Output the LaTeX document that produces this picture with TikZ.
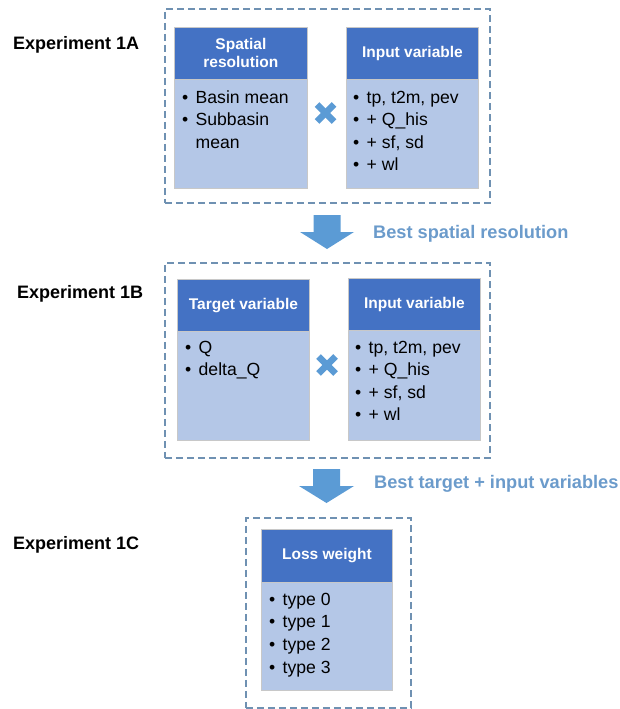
\documentclass[tikz,border=0pt]{standalone}
\usepackage{fontspec}
\setmainfont{Liberation Sans}
\usetikzlibrary{calc}
\definecolor{hdrc}{HTML}{4472C4}
\definecolor{bodyc}{HTML}{B4C7E7}
\definecolor{edgec}{HTML}{C8C8C8}
\definecolor{dashc}{HTML}{6F91B2}
\definecolor{arrowc}{HTML}{5B9BD5}
\definecolor{notec}{HTML}{6B9BCB}
\newcommand{\myitem}[1]{\makebox[13.5pt][l]{•}#1}
\newcommand{\mycont}[1]{\hspace*{13.5pt}#1}
\begin{document}
\begin{tikzpicture}[x=1pt,y=-1pt,
  group/.style={draw=dashc, dash pattern=on 7pt off 4pt, line width=1.8pt, fill=none, anchor=north west, inner sep=0},
  hdr/.style={fill=hdrc, draw=edgec, line width=0.8pt, text=white, anchor=north west, inner sep=0,
    font=\bfseries\fontsize{15.5}{18}\selectfont, align=center},
  body/.style={fill=bodyc, draw=edgec, line width=0.8pt, anchor=north west, inner sep=0},
  items/.style={anchor=north west, inner sep=0, align=left, font=\fontsize{17.6}{22.5}\selectfont},
  explabel/.style={font=\bfseries\fontsize{18}{20}\selectfont, anchor=base west, inner sep=0},
  note/.style={text=notec, font=\bfseries\fontsize{18.2}{20}\selectfont, anchor=base west, inner sep=0},
  crossmark/.style={draw=arrowc, line width=6.5pt},
  blockarrow/.style={fill=arrowc, draw=none}]
\useasboundingbox (0,0) rectangle (619,709);

% ---------- Experiment 1A ----------
\node[explabel] (l1a) at (13,49) {Experiment 1A};
\node[group, minimum width=325pt, minimum height=194pt] (g1a) at (164,8) {};
\node[body, minimum width=133pt, minimum height=109pt] (sb) at (174,79) {};
\node[hdr, minimum width=133pt, minimum height=52pt] (sh) at (174,27) {Spatial\\resolution};
\node[items] (st) at (182,87.25) {\strut\myitem{Basin mean}\\\myitem{Subbasin}\\\mycont{mean}};
\node[body, minimum width=132pt, minimum height=109pt] (ib1) at (346,79) {};
\node[hdr, minimum width=132pt, minimum height=52pt] (ih1) at (346,27) {Input variable};
\node[items] (it1) at (353,87.25) {\strut\myitem{tp, t2m, pev}\\\myitem{+ Q\_his}\\\myitem{+ sf, sd}\\\myitem{+ wl}};
\coordinate (x1) at (325.5,113);
\draw[crossmark] ($(x1)+(-8.5,-8.5)$) -- ($(x1)+(8.5,8.5)$);
\draw[crossmark] ($(x1)+(-8.5,8.5)$) -- ($(x1)+(8.5,-8.5)$);

% ---------- arrow 1 ----------
\coordinate (a1) at (327,215);
\fill[blockarrow] ($(a1)+(-13.5,0)$) -- ($(a1)+(13.5,0)$) -- ($(a1)+(13.5,17)$) -- ($(a1)+(27,17)$)
  -- ($(a1)+(0,34)$) -- ($(a1)+(-27,17)$) -- ($(a1)+(-13.5,17)$) -- cycle;
\node[note] (n1) at (373,238) {Best spatial resolution};

% ---------- Experiment 1B ----------
\node[explabel] (l1b) at (17,298) {Experiment 1B};
\node[group, minimum width=325pt, minimum height=195pt] (g1b) at (164,262) {};
\node[body, minimum width=132pt, minimum height=109pt] (tb) at (177,331) {};
\node[hdr, minimum width=132pt, minimum height=52pt] (th) at (177,279) {Target variable};
\node[items] (tt) at (185,337.25) {\strut\myitem{Q}\\\myitem{delta\_Q}};
\node[body, minimum width=132pt, minimum height=110pt] (ib2) at (348,330) {};
\node[hdr, minimum width=132pt, minimum height=52pt] (ih2) at (348,278) {Input variable};
\node[items] (it2) at (355,337.25) {\strut\myitem{tp, t2m, pev}\\\myitem{+ Q\_his}\\\myitem{+ sf, sd}\\\myitem{+ wl}};
\coordinate (x2) at (327,365);
\draw[crossmark] ($(x2)+(-8.5,-8.5)$) -- ($(x2)+(8.5,8.5)$);
\draw[crossmark] ($(x2)+(-8.5,8.5)$) -- ($(x2)+(8.5,-8.5)$);

% ---------- arrow 2 ----------
\coordinate (a2) at (326.5,469);
\fill[blockarrow] ($(a2)+(-13.5,0)$) -- ($(a2)+(13.5,0)$) -- ($(a2)+(13.5,17)$) -- ($(a2)+(27.5,17)$)
  -- ($(a2)+(0,34)$) -- ($(a2)+(-27.5,17)$) -- ($(a2)+(-13.5,17)$) -- cycle;
\node[note] (n2) at (374,488) {Best target + input variables};

% ---------- Experiment 1C ----------
\node[explabel] (l1c) at (13,549) {Experiment 1C};
\node[group, minimum width=165pt, minimum height=190pt] (g1c) at (245,517) {};
\node[body, minimum width=131pt, minimum height=108pt] (lb) at (261,582) {};
\node[hdr, minimum width=131pt, minimum height=53pt] (lh) at (261,529) {Loss weight};
\node[items, font=\fontsize{17.6}{22.7}\selectfont] (lt) at (269,589.1) {\strut\myitem{type 0}\\\myitem{type 1}\\\myitem{type 2}\\\myitem{type 3}};
\end{tikzpicture}
\end{document}
